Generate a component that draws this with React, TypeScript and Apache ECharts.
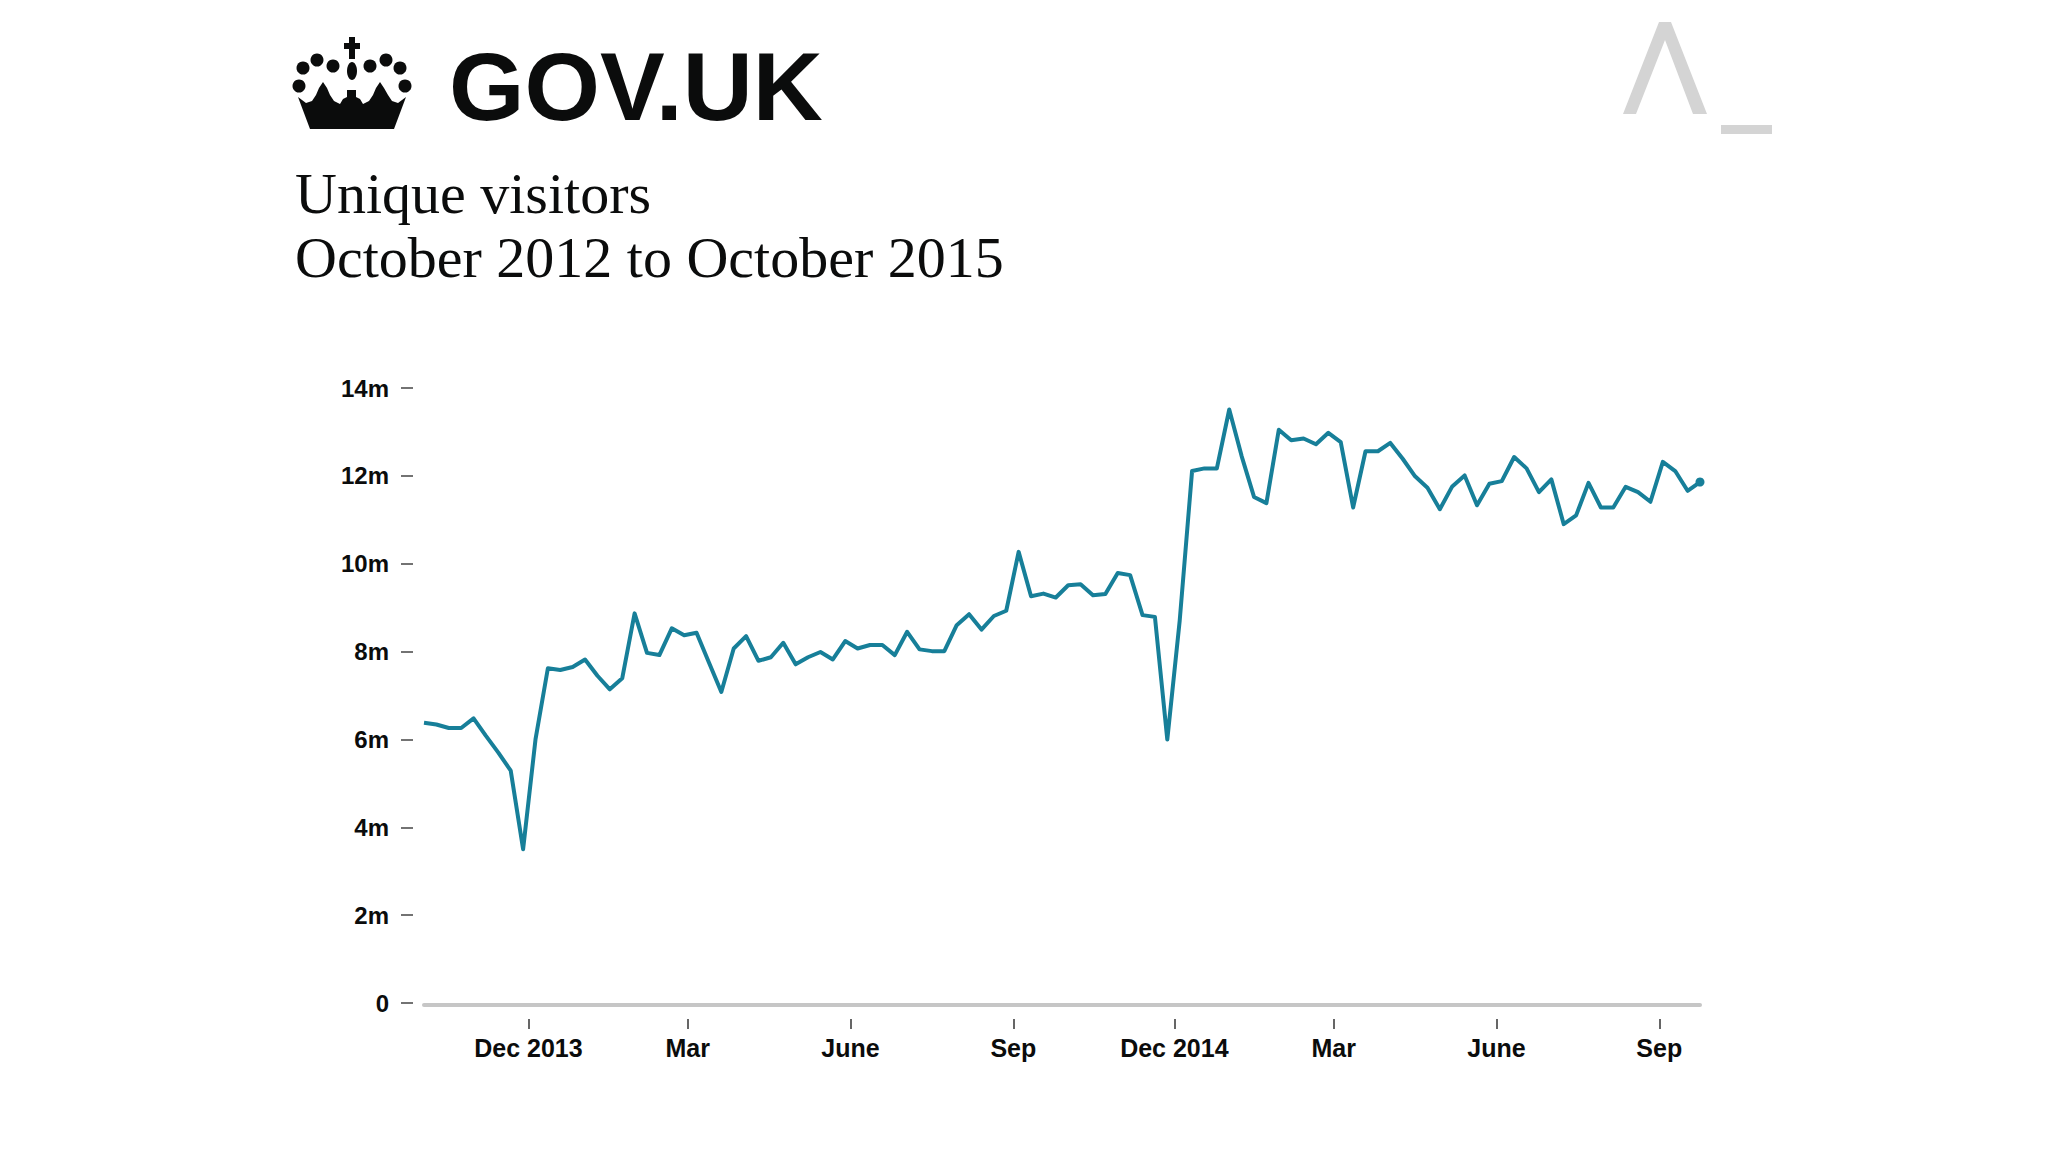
import React, { useEffect, useRef } from "react";
import * as echarts from "echarts";

// Weekly unique visitors (millions), first week starting 3 Oct 2013
const START_DATE = "2013-10-03";
const VISITORS_M = [
  6.38, 6.34, 6.26, 6.26, 6.48, 6.08, 5.7, 5.29, 3.5, 6.0,
  7.62, 7.58, 7.65, 7.82, 7.45, 7.14, 7.39, 8.87, 7.97, 7.92,
  8.53, 8.37, 8.43, 7.75, 7.08, 8.07, 8.35, 7.79, 7.87, 8.2,
  7.71, 7.87, 7.99, 7.82, 8.24, 8.07, 8.15, 8.15, 7.92, 8.45,
  8.05, 8.01, 8.01, 8.6, 8.85, 8.5, 8.81, 8.93, 10.27, 9.26,
  9.32, 9.23, 9.51, 9.53, 9.28, 9.31, 9.79, 9.74, 8.83, 8.79,
  6.0, 8.7, 12.11, 12.17, 12.17, 13.51, 12.45, 11.52, 11.38, 13.05,
  12.81, 12.85, 12.72, 12.98, 12.77, 11.28, 12.56, 12.56, 12.75, 12.39,
  11.99, 11.73, 11.24, 11.76, 12.01, 11.33, 11.82, 11.88, 12.43, 12.17,
  11.63, 11.92, 10.9, 11.1, 11.84, 11.28, 11.28, 11.75, 11.63, 11.41,
  12.32, 12.11, 11.66, 11.86,
];
const X_TICK_DATES = [
  "2013-12-01", "2014-03-01", "2014-06-01", "2014-09-01",
  "2014-12-01", "2015-03-01", "2015-06-01", "2015-09-01",
];
const X_TICK_LABELS = ["Dec 2013", "Mar", "June", "Sep", "Dec 2014", "Mar", "June", "Sep"];
const Y_MAX = 14000000;
const Y_STEP = 2000000;

const TITLE_LINE_1 = "Unique visitors";
const TITLE_LINE_2 = "October 2012 to October 2015";

const LINE_COLOR = "#177f99";
const SANS = "'Liberation Sans', Arial, sans-serif";
const SERIF = "'Liberation Serif', 'Times New Roman', serif";

export default function App() {
  const ref = useRef<HTMLDivElement>(null);

  useEffect(() => {
    if (!ref.current) return;
    const chart = echarts.init(ref.current, null, { renderer: "svg" });

    const WEEK = 7 * 24 * 3600 * 1000;
    const start = Date.parse(START_DATE);
    const n = VISITORS_M.length;
    const data: any[] = VISITORS_M.map((v, i) => {
      const item: any = { value: [start + i * WEEK, v * 1e6] };
      if (i === n - 1) {
        item.symbol = "circle";
        item.symbolSize = 9;
      }
      return item;
    });
    const xMin = start;
    const xMax = start + (n - 1) * WEEK;
    const tickTimes = X_TICK_DATES.map((d) => Date.parse(d));

    const crownColor = "#0b0c0c";
    const crownBody = [
      [310, 129], [298, 97], [306, 103], [312, 101], [316, 95], [319, 88],
      [323, 82], [327, 88], [330, 95], [334, 101], [340, 104], [343, 99],
      [347, 97], [347, 90], [356, 90], [356, 97], [360, 99], [363, 104],
      [369, 101], [373, 95], [376, 88], [380, 82], [384, 88], [388, 95],
      [392, 101], [398, 103], [406, 97], [394, 129],
    ];
    const pearls = [
      [303, 68], [317, 60], [333, 66], [370, 66], [386, 60], [400, 68],
      [299, 86], [405, 86],
    ];

    const graphic: any[] = [
      { type: "polygon", shape: { points: crownBody }, style: { fill: crownColor } },
      ...pearls.map((p) => ({
        type: "circle",
        shape: { cx: p[0], cy: p[1], r: 6.5 },
        style: { fill: crownColor },
      })),
      { type: "rect", shape: { x: 349, y: 37, width: 6, height: 22 }, style: { fill: crownColor } },
      { type: "rect", shape: { x: 344, y: 43, width: 16, height: 6 }, style: { fill: crownColor } },
      { type: "ellipse", shape: { cx: 352, cy: 71, rx: 5, ry: 9 }, style: { fill: crownColor } },
      {
        type: "text",
        x: 449,
        y: 86,
        style: {
          text: "GOV.UK",
          fill: crownColor,
          font: `bold 97px ${SANS}`,
          align: "left",
          verticalAlign: "middle",
        },
      },
      {
        type: "polygon",
        shape: {
          points: [
            [1659, 22], [1671, 22], [1707, 114], [1693, 114], [1665, 40],
            [1636, 114], [1623, 114],
          ],
        },
        style: { fill: "#d4d4d4" },
      },
      { type: "rect", shape: { x: 1721, y: 125, width: 51, height: 9 }, style: { fill: "#d4d4d4" } },
      {
        type: "text",
        x: 295,
        y: 193,
        style: {
          text: TITLE_LINE_1,
          fill: "#0b0c0c",
          font: `58px ${SERIF}`,
          align: "left",
          verticalAlign: "middle",
        },
      },
      {
        type: "text",
        x: 295,
        y: 257,
        style: {
          text: TITLE_LINE_2,
          fill: "#0b0c0c",
          font: `58px ${SERIF}`,
          align: "left",
          verticalAlign: "middle",
        },
      },
    ];

    chart.setOption({
      animation: false,
      backgroundColor: "#ffffff",
      grid: { left: 424, right: 348, top: 388, bottom: 149, containLabel: false },
      xAxis: [
        {
          type: "value",
          min: xMin,
          max: xMax,
          position: "bottom",
          offset: 16,
          axisLine: { show: false, onZero: false },
          splitLine: { show: false },
          axisTick: {
            show: true,
            customValues: tickTimes,
            length: 10,
            lineStyle: { color: "#333", width: 1.5 },
          },
          axisLabel: {
            customValues: tickTimes,
            formatter: (val: number) => {
              const i = tickTimes.indexOf(val);
              return i >= 0 ? X_TICK_LABELS[i] : "";
            },
            margin: 16,
            color: "#0b0c0c",
            fontFamily: SANS,
            fontWeight: "bold",
            fontSize: 25,
          },
        },
        {
          type: "value",
          min: xMin,
          max: xMax,
          position: "bottom",
          offset: 2,
          axisLine: { show: true, onZero: false, lineStyle: { color: "#c6c6c6", width: 4 } },
          axisTick: { show: false },
          axisLabel: { show: false },
          splitLine: { show: false },
        },
      ],
      yAxis: {
        type: "value",
        min: 0,
        max: Y_MAX,
        interval: Y_STEP,
        offset: 11,
        axisLine: { show: false, onZero: false },
        splitLine: { show: false },
        axisTick: { show: true, length: 12, lineStyle: { color: "#444", width: 1.5 } },
        axisLabel: {
          margin: 24,
          formatter: (v: number) => (v === 0 ? "0" : `${v / 1e6}m`),
          color: "#0b0c0c",
          fontFamily: SANS,
          fontWeight: "bold",
          fontSize: 24,
        },
      },
      series: [
        {
          type: "line",
          xAxisIndex: 0,
          data,
          symbol: "none",
          showAllSymbol: true,
          itemStyle: { color: LINE_COLOR },
          lineStyle: { color: LINE_COLOR, width: 4, join: "round" },
          silent: true,
        },
      ],
      graphic,
    });

    return () => chart.dispose();
  }, []);

  return (
    <div
      ref={ref}
      style={{ position: "fixed", left: 0, top: 0, width: 2048, height: 1152, background: "#fff" }}
    />
  );
}
